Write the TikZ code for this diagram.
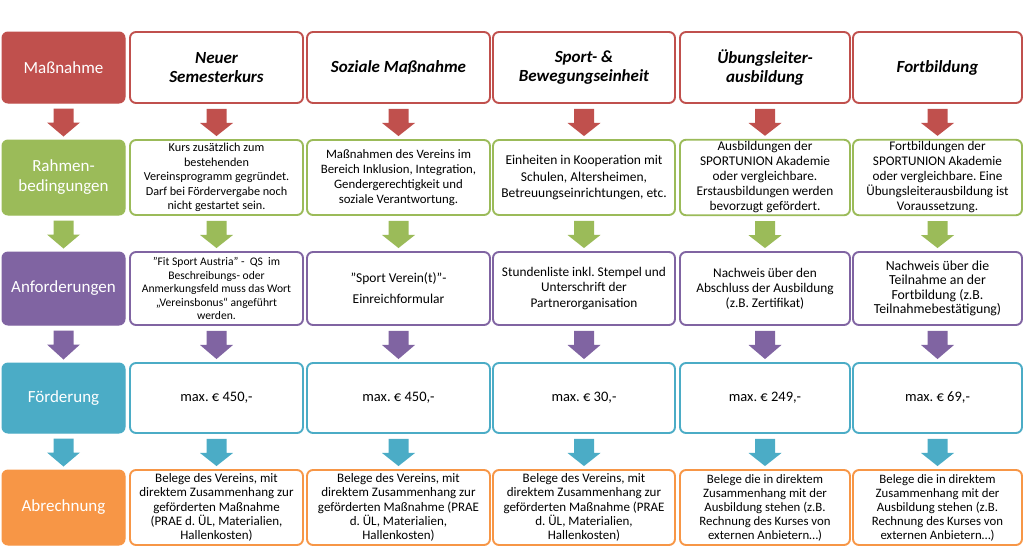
\documentclass[tikz,border=0pt]{standalone}
\usepackage{fontspec}
\setmainfont{Carlito}
\usetikzlibrary{calc}
\frenchspacing
\definecolor{cred}{HTML}{C0504D}
\definecolor{cgreen}{HTML}{9BBB59}
\definecolor{cpurple}{HTML}{8064A2}
\definecolor{cblue}{HTML}{4BACC6}
\definecolor{corange}{HTML}{F79646}
\newcommand\blockarr[3]{%
  \fill[#3] ($(#1.south)+(-10,5)$) -- ($(#1.south)+(10,5)$) -- ($(#1.south)+(10,19)$)
   -- ($(#1.south)+(16.5,19)$) -- ($(#2.north)+(0,-3)$) -- ($(#1.south)+(-16.5,19)$)
   -- ($(#1.south)+(-10,19)$) -- cycle;}
\begin{document}
\frenchspacing
\begin{tikzpicture}[x=1pt,y=-1pt,
  box/.style={draw=#1, line width=1.9pt, rounded corners=6pt, fill=white, align=center,
    inner sep=2pt, font=\fontsize{13}{15}\selectfont\frenchspacing},
  hbox/.style={box=#1, font=\fontsize{17}{19}\selectfont\bfseries\itshape},
  lab/.style={fill=#1, draw=#1, line width=1pt, rounded corners=6pt, text=white, align=center,
    inner sep=2pt, font=\fontsize{17}{20}\selectfont},
  fs/.style 2 args={font=\fontsize{#1}{#2}\selectfont\frenchspacing},
  c0/.style={minimum width=123},
  c1/.style={minimum width=173},
  c2/.style={minimum width=183},
  c3/.style={minimum width=182},
  c4/.style={minimum width=170},
  c5/.style={minimum width=169},
  r1/.style={minimum height=71},
  r2/.style={minimum height=75},
  r3/.style={minimum height=73},
  r4/.style={minimum height=70},
  r5/.style={minimum height=75}]
\useasboundingbox (0,0) rectangle (1024,547);
% row 1
\node[lab=cred,c0,r1] (l1) at (63.5,67.5) {Maßnahme};
\node[hbox=cred,c1,r1] (a1) at (216.5,67.5) {Neuer\\Semesterkurs};
\node[hbox=cred,c2,r1] (b1) at (398.5,67.5) {Soziale Maßnahme};
\node[hbox=cred,c3,r1] (d1) at (584,67.5) {Sport- \&\\Bewegungseinheit};
\node[hbox=cred,c4,r1] (e1) at (765,67.5) {Übungsleiter-\\ausbildung};
\node[hbox=cred,c5,r1] (f1) at (937.5,67.5) {Fortbildung};
% row 2
\node[lab=cgreen,c0,r2] (l2) at (63.5,177.5) {Rahmen-\\bedingungen};
\node[box=cgreen,c1,r2,fs={12.2}{14.5}] (a2) at (216.5,177.5) {Kurs zusätzlich zum\\bestehenden\\Vereinsprogramm gegründet.\\Darf bei Fördervergabe noch\\nicht gestartet sein.};
\node[box=cgreen,c2,r2,fs={12.8}{15}] (b2) at (398.5,177.5) {Maßnahmen des Vereins im\\Bereich Inklusion, Integration,\\Gendergerechtigkeit und\\soziale Verantwortung.};
\node[box=cgreen,c3,r2,fs={13.5}{16.5}] (d2) at (584,177.5) {Einheiten in Kooperation mit\\Schulen, Altersheimen,\\Betreuungseinrichtungen, etc.};
\node[box=cgreen,c4,r2,fs={13.3}{15}] (e2) at (765,177.5) {Ausbildungen der\\SPORTUNION Akademie\\oder vergleichbare.\\Erstausbildungen werden\\bevorzugt gefördert.};
\node[box=cgreen,c5,r2,fs={13.2}{15}] (f2) at (937.5,177.5) {Fortbildungen der\\SPORTUNION Akademie\\oder vergleichbare. Eine\\Übungsleiterausbildung ist\\Voraussetzung.};
% row 3
\node[lab=cpurple,c0,r3] (l3) at (63.5,288.5) {Anforderungen};
\node[box=cpurple,c1,r3,fs={11.6}{13.5}] (a3) at (216.5,288.5) {"Fit Sport Austria" -~ QS~ im\\Beschreibungs- oder\\Anmerkungsfeld muss das Wort\\„Vereinsbonus“ angeführt\\werden.};
\node[box=cpurple,c2,r3,fs={13.5}{21}] (b3) at (398.5,288.5) {"Sport Verein(t)"-\\Einreichformular};
\node[box=cpurple,c3,r3,fs={13.3}{15.5}] (d3) at (584,288.5) {Stundenliste inkl. Stempel und\\Unterschrift der\\Partnerorganisation};
\node[box=cpurple,c4,r3,fs={13.3}{15}] (e3) at (765,288.5) {Nachweis über den\\Abschluss der Ausbildung\\(z.B. Zertifikat)};
\node[box=cpurple,c5,r3,fs={13.8}{14.5}] (f3) at (937.5,288.5) {Nachweis über die\\Teilnahme an der\\Fortbildung (z.B.\\Teilnahmebestätigung)};
% row 4
\node[lab=cblue,c0,r4] (l4) at (63.5,398) {Förderung};
\node[box=cblue,c1,r4,fs={14.5}{17}] (a4) at (216.5,398) {max. € 450,-};
\node[box=cblue,c2,r4,fs={14.5}{17}] (b4) at (398.5,398) {max. € 450,-};
\node[box=cblue,c3,r4,fs={14.5}{17}] (d4) at (584,398) {max. € 30,-};
\node[box=cblue,c4,r4,fs={14.5}{17}] (e4) at (765,398) {max. € 249,-};
\node[box=cblue,c5,r4,fs={14.5}{17}] (f4) at (937.5,398) {max. € 69,-};
% row 5
\node[lab=corange,c0,r5] (l5) at (63.5,507.5) {Abrechnung};
\node[box=corange,c1,r5,fs={13}{14.4}] (a5) at (216.5,507.5) {Belege des Vereins, mit\\direktem Zusammenhang zur\\geförderten Maßnahme\\(PRAE d. ÜL, Materialien,\\Hallenkosten)};
\node[box=corange,c2,r5,fs={13}{14.4}] (b5) at (398.5,507.5) {Belege des Vereins, mit\\direktem Zusammenhang zur\\geförderten Maßnahme (PRAE\\d. ÜL, Materialien,\\Hallenkosten)};
\node[box=corange,c3,r5,fs={13}{14.4}] (d5) at (584,507.5) {Belege des Vereins, mit\\direktem Zusammenhang zur\\geförderten Maßnahme (PRAE\\d. ÜL, Materialien,\\Hallenkosten)};
\node[box=corange,c4,r5,fs={12.8}{14}] (e5) at (765,507.5) {Belege die in direktem\\Zusammenhang mit der\\Ausbildung stehen (z.B.\\Rechnung des Kurses von\\externen Anbietern…)};
\node[box=corange,c5,r5,fs={12.8}{14}] (f5) at (937.5,507.5) {Belege die in direktem\\Zusammenhang mit der\\Ausbildung stehen (z.B.\\Rechnung des Kurses von\\externen Anbietern…)};
% arrows
\foreach \c in {l,a,b,d,e,f}{
  \blockarr{\c1}{\c2}{cred}
  \blockarr{\c2}{\c3}{cgreen}
  \blockarr{\c3}{\c4}{cpurple}
  \blockarr{\c4}{\c5}{cblue}
}
\end{tikzpicture}
\end{document}
